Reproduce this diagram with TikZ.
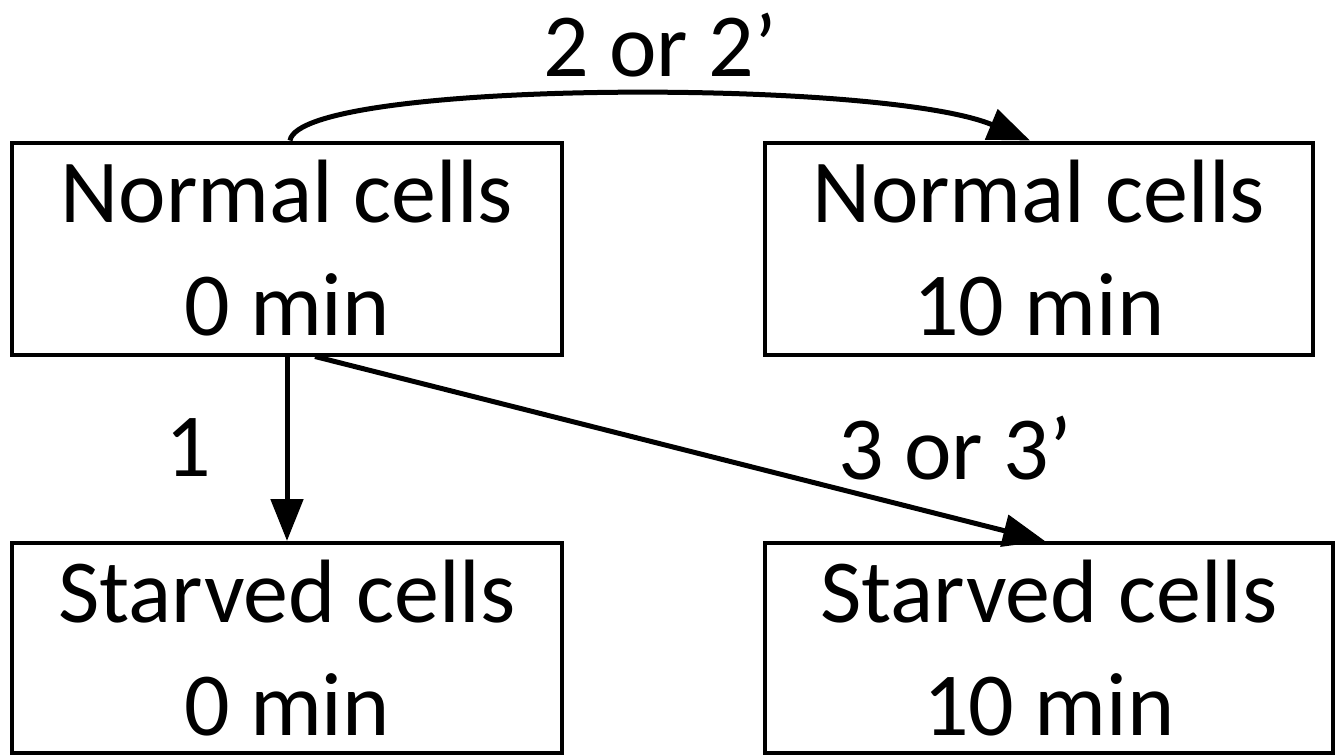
\documentclass[tikz,border=0pt]{standalone}
\usepackage{fontspec}
\setmainfont{Carlito}
\usetikzlibrary{arrows.meta}
\tikzset{
  cellbox/.style={draw=black, line width=4pt, inner sep=0pt, align=center,
    minimum height=212pt, font=\fontsize{90}{113}\selectfont},
  conn/.style={line width=5pt, -{Triangle[length=42pt,width=32pt]}},
  lbl/.style={inner sep=0pt, font=\fontsize{90}{108}\selectfont}
}
\begin{document}
\begin{tikzpicture}[x=1pt,y=-1pt]
\useasboundingbox (0,0) rectangle (1341,755);
\node[cellbox, minimum width=550pt] (tl) at (287,248.5) {Normal cells\\0 min};
\node[cellbox, minimum width=548pt] (tr) at (1039,248.5) {Normal cells\\10 min};
\node[cellbox, minimum width=550pt, minimum height=210pt] (bl) at (287,648) {Starved cells\\0 min};
\node[cellbox, minimum width=568pt, minimum height=210pt] (br) at (1049,648) {Starved cells\\10 min};
\coordinate (c1) at ([xshift=3pt]tl.north);
\coordinate (c2) at ([xshift=-9pt]tr.north);
\draw[conn] (c1) .. controls (300,80) and (880,78) .. (c2);
\draw[conn] (tl.south) -- (bl.north);
\coordinate (d1) at ([xshift=28pt]tl.south);
\coordinate (d2) at ([xshift=-4pt]br.north);
\draw[conn] (d1) -- (d2);
\node[lbl] (l2) at (660,45) {2 or 2’};
\node[lbl] (l1) at (188,448) {1};
\node[lbl] (l3) at (955,448) {3 or 3’};
\end{tikzpicture}
\end{document}
